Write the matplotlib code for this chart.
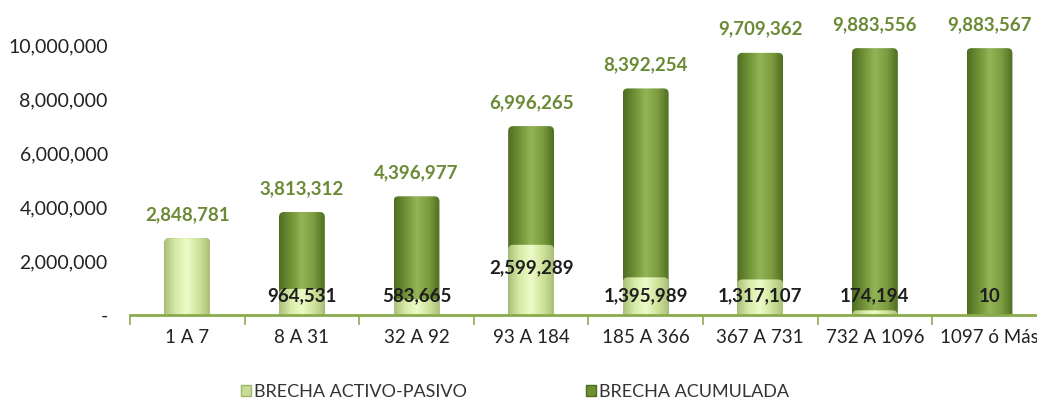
"""
Brecha de liquidez por banda de tiempo - barras cilindricas superpuestas.
"""

import matplotlib.pyplot as plt
import numpy as np
from matplotlib.colors import LinearSegmentedColormap
from matplotlib.patches import FancyBboxPatch, Patch
from matplotlib.ticker import FuncFormatter

plt.rcParams["font.family"] = ["Lato", "DejaVu Sans"]

bandas = ["1 A 7", "8 A 31", "32 A 92", "93 A 184", "185 A 366", "367 A 731", "732 A 1096", "1097 ó Más"]
brecha_activo_pasivo = [2848781, 964531, 583665, 2599289, 1395989, 1317107, 174194, 10]
brecha_acumulada = [2848781, 3813312, 4396977, 6996265, 8392254, 9709362, 9883556, 9883567]

COLORS = {
    "dark_edge": "#4f6d22",
    "dark_mid": "#93b556",
    "light_edge": "#a9bf78",
    "light_mid": "#eefbc8",
    "top_label": "#6a8a35",
    "axis": "#8aab4c",
}

W, H = 1037, 400
fig = plt.figure(figsize=(W / 100, H / 100), dpi=100)
# axes spans 8 categories of ~114.6 px, right edge runs past the figure
ax = fig.add_axes([130 / W, (H - 315) / H, 8 * 114.6 / W, 310 / H])
ax.set_xlim(-0.5, 7.5)
ax.set_ylim(0, 310 / 27 * 1e6)

cmap_dark = LinearSegmentedColormap.from_list(
    "dark", [COLORS["dark_edge"], "#6f9136", COLORS["dark_mid"], "#7d9e40", COLORS["dark_edge"]]
)
cmap_light = LinearSegmentedColormap.from_list(
    "light", [COLORS["light_edge"], "#d6eba6", COLORS["light_mid"], "#d0e49c", COLORS["light_edge"]]
)
grad = np.linspace(0, 1, 256).reshape(1, -1)

bar_w = 0.4
# px -> data units for rounding the cylinder tops
px_x = 1 / 114.6
px_y = 1e6 / 27
aspect = px_y / px_x


def cylinder(x, h, cmap, z):
    patch = FancyBboxPatch(
        (x - bar_w / 2, -3 * px_y),
        bar_w,
        h + 3 * px_y,
        boxstyle=f"round,pad=0,rounding_size={5 * px_x}",
        mutation_aspect=aspect,
        facecolor="none",
        edgecolor="none",
        zorder=z,
    )
    ax.add_patch(patch)
    im = ax.imshow(
        grad,
        cmap=cmap,
        aspect="auto",
        extent=(x - bar_w / 2, x + bar_w / 2, 0, h),
        zorder=z,
        interpolation="bicubic",
    )
    im.set_clip_path(patch)


x = np.arange(len(bandas))
for xi, acum, ap in zip(x, brecha_acumulada, brecha_activo_pasivo, strict=False):
    cylinder(xi, acum, cmap_dark, 2)
    cylinder(xi, ap, cmap_light, 3)

ax.set_xlim(-0.5, 7.5)
ax.set_ylim(0, 310 / 27 * 1e6)

for xi, acum, ap in zip(x, brecha_acumulada, brecha_activo_pasivo, strict=False):
    ax.annotate(
        f"{acum:,}",
        (xi, acum),
        xytext=(0, 17),
        textcoords="offset points",
        ha="center",
        va="center",
        fontsize=13.5,
        fontweight="bold",
        color=COLORS["top_label"],
        zorder=5,
    )
    if ap != acum:
        ax.text(
            xi,
            max(ap - 0.85e6, 0.7e6),
            f"{ap:,}",
            ha="center",
            va="center",
            fontsize=13.5,
            fontweight="bold",
            color="#1e1e1e",
            zorder=5,
        )

ax.yaxis.set_major_formatter(FuncFormatter(lambda v, _: "-" if v == 0 else f"{v:,.0f}"))
ax.set_yticks(np.arange(0, 10_000_001, 2_000_000))
ax.tick_params(axis="y", length=0, pad=16, labelsize=14, labelcolor="#222222")

ax.set_xticks(x)
ax.set_xticklabels(bandas)
ax.tick_params(axis="x", length=0, pad=10, labelsize=13.5, labelcolor="#222222")
ax.set_xticks(np.arange(-0.5, 8, 1), minor=True)
ax.tick_params(axis="x", which="minor", length=7, width=1.2, color=COLORS["axis"])

for side in ["top", "right", "left"]:
    ax.spines[side].set_visible(False)
ax.spines["bottom"].set_color(COLORS["axis"])
ax.spines["bottom"].set_linewidth(2)
ax.spines["bottom"].set_zorder(4)

legend_elements = [
    Patch(facecolor="#c8dc98", edgecolor="#9db56a", label="BRECHA ACTIVO-PASIVO"),
    Patch(facecolor="#6e902e", edgecolor="#4f6d22", label="BRECHA ACUMULADA"),
]
fig.legend(
    handles=legend_elements,
    loc="center left",
    bbox_to_anchor=(225 / W, 1 - 392 / H),
    ncol=2,
    frameon=False,
    fontsize=13,
    handlelength=0.55,
    handleheight=0.55,
    handletextpad=0.15,
    columnspacing=6.6,
    labelcolor="#333333",
)

plt.savefig("out.png", dpi=100)
plt.close()
